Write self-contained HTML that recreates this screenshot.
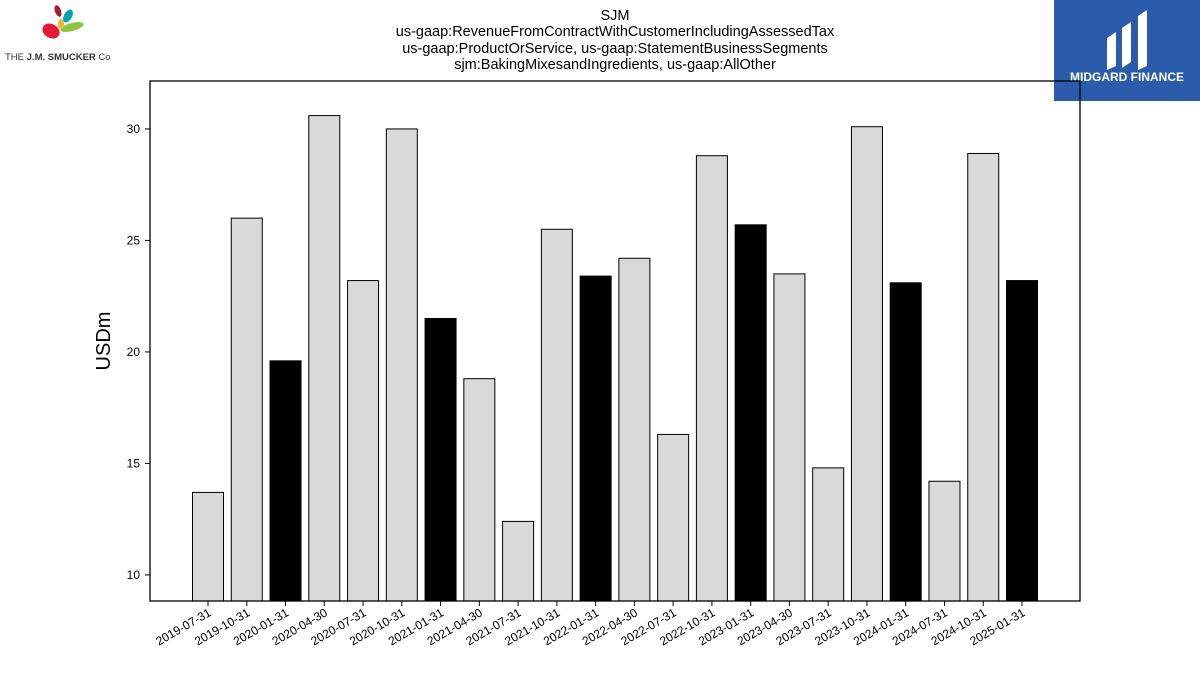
<!DOCTYPE html>
<html><head><meta charset="utf-8"><style>
body{margin:0;background:#fff;width:1200px;height:675px;overflow:hidden;font-family:"Liberation Sans","DejaVu Sans",sans-serif}
</style></head><body>
<svg width="1200" height="675" xmlns="http://www.w3.org/2000/svg">
<g font-size="14.5" text-anchor="middle" fill="#000">
<text x="615" y="20">SJM</text>
<text x="615" y="36">us-gaap:RevenueFromContractWithCustomerIncludingAssessedTax</text>
<text x="615" y="53">us-gaap:ProductOrService, us-gaap:StatementBusinessSegments</text>
<text x="615" y="69">sjm:BakingMixesandIngredients, us-gaap:AllOther</text>
</g>
<g>
<ellipse cx="51" cy="31" rx="9" ry="7" fill="#e31937" transform="rotate(30 51 31)"/>
<ellipse cx="72" cy="27" rx="12" ry="4" fill="#8dc63f" transform="rotate(-15 72 27)"/>
<ellipse cx="68" cy="16" rx="4" ry="7" fill="#00a3ad" transform="rotate(30 68 16)"/>
<ellipse cx="58" cy="11" rx="3" ry="6" fill="#a6192e" transform="rotate(-20 58 11)"/>
<ellipse cx="61" cy="24" rx="3" ry="5" fill="#f5b335"/>
<text x="5" y="60" font-size="9.5" fill="#333">THE <tspan font-weight="bold">J.M. SMUCKER</tspan> Co</text>
</g>
<g>
<rect x="1054" y="0" width="146" height="101" fill="#2b5cab"/>
<path d="M1107 38 L1116 32 L1116 66 L1107 70 Z M1122 28 L1131 22 L1131 62 L1122 68 Z M1138 16 L1147 10 L1147 66 L1138 70 Z" fill="#fff"/>
<text x="1127" y="81" font-size="12" font-weight="bold" fill="#fff" text-anchor="middle">MIDGARD FINANCE</text>
</g>
<g id="plot"></g>
<text transform="translate(110 341) rotate(-90)" font-size="20" text-anchor="middle">USDm</text>
</svg>
<script>
const categories=["2019-07-31","2019-10-31","2020-01-31","2020-04-30","2020-07-31","2020-10-31","2021-01-31","2021-04-30","2021-07-31","2021-10-31","2022-01-31","2022-04-30","2022-07-31","2022-10-31","2023-01-31","2023-04-30","2023-07-31","2023-10-31","2024-01-31","2024-07-31","2024-10-31","2025-01-31"];
const values=[13.7,26.0,19.6,30.6,23.2,30.0,21.5,18.8,12.4,25.5,23.4,24.2,16.3,28.8,25.7,23.5,14.8,30.1,23.1,14.2,28.9,23.2];
const yTicks=[10,15,20,25,30];
const ns="http://www.w3.org/2000/svg";
const L=150,R=1080,T=81,B=601,yMin=8.83,yMax=32.15;
const y=v=>B-(v-yMin)/(yMax-yMin)*(B-T);
const step=(R-L)/(categories.length+0.0);
const first=208,last=1022,sp=(last-first)/(categories.length-1);
const x=i=>first+i*sp;
const g=document.getElementById('plot');
function mk(t,a){const e=document.createElementNS(ns,t);for(const k in a)e.setAttribute(k,a[k]);g.appendChild(e);return e;}
values.forEach((v,i)=>{
 const b=mk('rect',{x:x(i)-15.5,y:y(v),width:31,height:B-y(v),fill:categories[i].endsWith('01-31')?'#000':'#d9d9d9',stroke:'#000','stroke-width':1});
 
 
 const tk=mk('line',{x1:x(i),x2:x(i),y1:B,y2:B+5,stroke:'#000'});
 
 
 const t=mk('text',{x:x(i)+4,y:B+14,'font-size':12,'text-anchor':'end',transform:`rotate(-30 ${x(i)+4} ${B+14})`});
 t.textContent=categories[i];
 
 
});
yTicks.forEach(v=>{
 const tk=mk('line',{x1:L-5,x2:L,y1:y(v),y2:y(v),stroke:'#000'});
 
 
 const t=mk('text',{x:L-10,y:y(v)+4,'font-size':12,'text-anchor':'end'});
 t.textContent=v;
 
 
});
const f=mk('rect',{x:L,y:T,width:R-L,height:B-T,fill:'none',stroke:'#000','stroke-width':1.3});


</script>
</body></html>
